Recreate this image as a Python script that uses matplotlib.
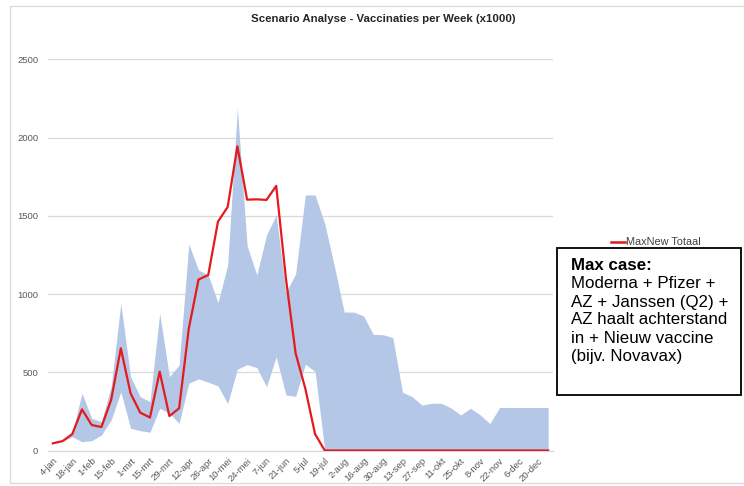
import matplotlib
matplotlib.use("Agg")
import matplotlib.pyplot as plt
from matplotlib.patches import Rectangle
from matplotlib.lines import Line2D

plt.rcParams['font.family'] = ['Liberation Sans', 'DejaVu Sans']

weeks = ["4-jan", "11-jan", "18-jan", "25-jan", "1-feb", "8-feb", "15-feb", "22-feb",
         "1-mrt", "8-mrt", "15-mrt", "22-mrt", "29-mrt", "5-apr", "12-apr", "19-apr",
         "26-apr", "3-mei", "10-mei", "17-mei", "24-mei", "31-mei", "7-jun", "14-jun",
         "21-jun", "28-jun", "5-jul", "12-jul", "19-jul", "26-jul", "2-aug", "9-aug",
         "16-aug", "23-aug", "30-aug", "6-sep", "13-sep", "20-sep", "27-sep", "4-okt",
         "11-okt", "18-okt", "25-okt", "1-nov", "8-nov", "15-nov", "22-nov", "29-nov",
         "6-dec", "13-dec", "20-dec", "27-dec"]

maxnew_totaal = [46, 60, 105, 263, 163, 150, 323, 653, 366, 242, 211, 504, 220, 270,
                 780, 1093, 1122, 1463, 1557, 1945, 1604, 1606, 1602, 1692, 1100, 621,
                 395, 105, 0, 0, 0, 0, 0, 0, 0, 0, 0, 0, 0, 0, 0, 0, 0, 0, 0, 0, 0, 0,
                 0, 0, 0, 0]

band_upper = [46, 60, 114, 366, 206, 184, 408, 941, 472, 344, 312, 877, 472, 547,
              1320, 1154, 1122, 946, 1185, 2188, 1310, 1122, 1378, 1506, 1010, 1130,
              1634, 1634, 1450, 1175, 885, 885, 860, 742, 740, 722, 373, 344, 290,
              302, 302, 272, 227, 270, 228, 172, 275, 275, 275, 275, 275, 275]

band_lower = [46, 60, 88, 56, 63, 99, 195, 376, 142, 127, 117, 270, 238, 174,
              430, 458, 437, 413, 300, 520, 549, 530, 408, 600, 355, 346, 552, 505,
              0, 0, 0, 0, 0, 0, 0, 0, 0, 0, 0, 0, 0, 0, 0, 0, 0, 0, 0, 0, 0, 0, 0, 0]

yticks = [0, 500, 1000, 1500, 2000, 2500]

W, H = 744, 486
fig = plt.figure(figsize=(W / 100, H / 100), dpi=100)
ax = fig.add_axes([48 / W, 1 - 450.5 / H, (553 - 48) / W, (450.5 - 59.5) / H])

x = list(range(len(weeks)))
ax.fill_between(x, band_lower, band_upper, color='#b4c7e7', linewidth=0, zorder=2)
ax.plot(x, maxnew_totaal, color='#e41a1c', linewidth=1.6, zorder=3,
        label='MaxNew Totaal')

ax.set_xlim(-0.5, len(weeks) - 0.5)
ax.set_ylim(0, 2500)
ax.set_yticks(yticks)
ax.set_yticklabels([str(v) for v in yticks])
ax.set_xticks(x[::2])
ax.set_xticklabels(weeks[::2], rotation=45, ha='right', va='top',
                   rotation_mode='anchor')
ax.tick_params(axis='both', length=0, labelsize=6.8, labelcolor='#595959')
ax.tick_params(axis='x', pad=4)
ax.tick_params(axis='y', pad=7)
ax.grid(axis='y', color='#d9d9d9', linewidth=0.9, zorder=1)
ax.set_axisbelow(True)
for s in ['top', 'right', 'left']:
    ax.spines[s].set_visible(False)
ax.spines['bottom'].set_color('#d9d9d9')
ax.spines['bottom'].set_linewidth(0.9)

fig.text(383 / W, 1 - 19 / H, 'Scenario Analyse - Vaccinaties per Week (x1000)',
         ha='center', va='center', fontsize=8.2, fontweight='bold', color='#262626')

# chart border
fig.add_artist(Rectangle((10 / W, 1 - 483 / H), 1.2, (483 - 6) / H,
                         transform=fig.transFigure, fill=False,
                         edgecolor='#d9d9d9', linewidth=0.9))

# legend
fig.add_artist(Line2D([611 / W, 625 / W], [1 - 242 / H, 1 - 242 / H],
                      transform=fig.transFigure, color='#e41a1c', linewidth=1.8))
fig.text(626 / W, 1 - 242 / H, 'MaxNew Totaal', ha='left', va='center',
         fontsize=7.8, color='#404040')

# annotation box
fig.add_artist(Rectangle((557 / W, 1 - 395 / H), (741 - 557) / W, (395 - 248) / H,
                         transform=fig.transFigure, facecolor='white',
                         edgecolor='black', linewidth=1.3, zorder=5))
lines = ["Moderna + Pfizer +", "AZ + Janssen (Q2) +", "AZ haalt achterstand",
         "in + Nieuw vaccine", "(bijv. Novavax)"]
fig.text(571 / W, 1 - 266 / H, "Max case:", ha='left', va='center',
         fontsize=12.2, fontweight='bold', color='black', zorder=6)
for k, t in enumerate(lines):
    fig.text(571 / W, 1 - (266 + 18 * (k + 1)) / H, t, ha='left', va='center',
             fontsize=12.2, color='black', zorder=6)

fig.savefig('out.png', dpi=100, facecolor='white')
